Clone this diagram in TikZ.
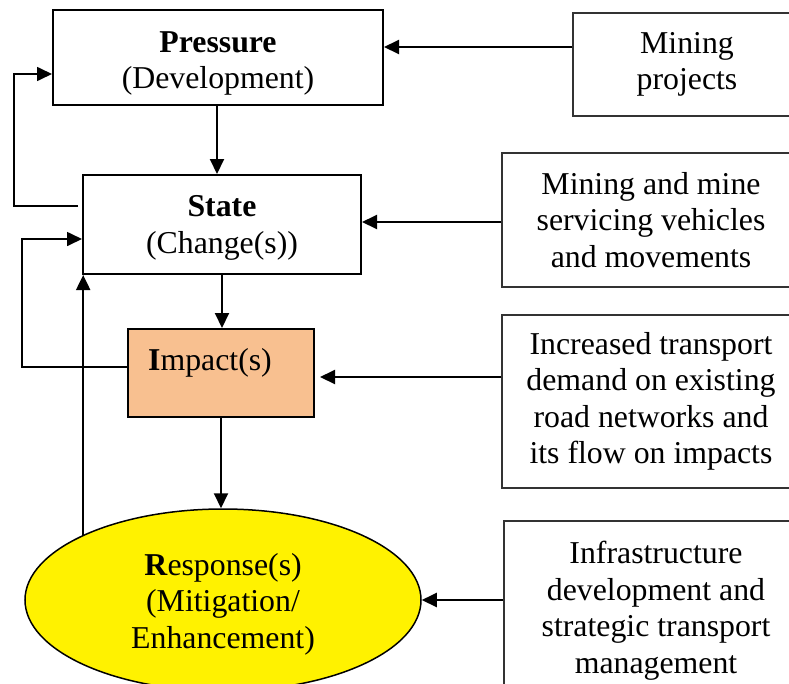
\documentclass[tikz,border=0pt]{standalone}
\usepackage{fontspec}
\setmainfont{Liberation Serif}
\usetikzlibrary{arrows.meta,shapes.geometric}
\definecolor{impactfill}{RGB}{248,192,144}
\begin{document}
\begin{tikzpicture}[x=1pt,y=-1pt,
  txt/.style={font=\fontsize{31.8pt}{36.5pt}\selectfont, align=center, inner sep=0pt},
  mainbox/.style={txt, rectangle, draw=black, line width=2pt},
  sidebox/.style={txt, rectangle, draw=black!80, line width=1.4pt},
  arr/.style={line width=2pt, -{Triangle[length=15pt,width=14pt]}},
  loopline/.style={line width=1.7pt, -{Triangle[length=15pt,width=14pt]}}]
\useasboundingbox (0,0) rectangle (789,683);
\clip (0,0) rectangle (789,683);

% DPSIR chain
\node[mainbox, minimum width=330pt, minimum height=95pt] (pres) at (218,57.5)
  {\rule{0pt}{33pt}\textbf{Pressure}\\(Development)};
\node[mainbox, minimum width=278pt, minimum height=99pt] (state) at (222,224.5)
  {\rule{0pt}{28pt}\textbf{State}\\(Change(s))};
\node[mainbox, fill=impactfill, minimum width=186pt, minimum height=88pt,
      text height=24pt, text depth=30pt] (imp) at (221,373)
  {\textbf{I}mpact(s)\hspace*{22pt}};
\node[txt, ellipse, draw=black, line width=1.5pt, fill=yellow,
      minimum width=396pt, minimum height=182pt] (resp) at (223,600)
  {\rule{0pt}{30pt}\textbf{R}esponse(s)\\(Mitigation/\\Enhancement)};

% drivers on the right
\node[sidebox, minimum width=228pt, minimum height=103pt] (mp) at (687,64.5)
  {Mining\\projects};
\node[sidebox, minimum width=298pt, minimum height=134pt] (veh) at (651,220)
  {Mining and mine\\servicing vehicles\\and movements};
\node[sidebox, minimum width=298pt, minimum height=173pt] (inc) at (651,401.5)
  {Increased transport\\demand on existing\\road networks and\\its flow on impacts};
\node[sidebox, minimum width=304pt, minimum height=179pt] (inf) at (656,610.5)
  {Infrastructure\\development and\\strategic transport\\management};

% main flow
\draw[arr] (mp.west |- 0,47) -- (pres.east |- 0,47);
\draw[arr] (pres.south -| 217,0) -- (state.north -| 217,0);
\draw[arr] (veh.west |- 0,222) -- (state.east |- 0,222);
\draw[arr] (state.south) -- (state.south |- imp.north);
\draw[arr, shorten >=5pt] (inc.west |- 0,377) -- (imp.east |- 0,377);
\draw[arr] (imp.south) -- (imp.south |- resp.north);
\draw[arr] (inf.west |- 0,600) -- (resp.east);
\draw[arr] (resp.155.9) -- (resp.155.9 |- state.south);

% feedback loops
\draw[loopline, shorten <=4pt] (state.west |- 0,206) -| (14,74) -- (pres.west |- 0,74);
\draw[loopline] (imp.west |- 0,367) -| (22,239) -- (state.west |- 0,239);
\end{tikzpicture}
\end{document}
